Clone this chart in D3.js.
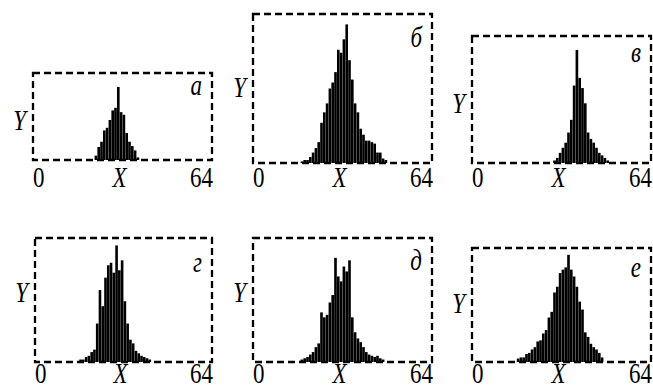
<!DOCTYPE html>
<html>
<head>
<meta charset="utf-8">
<script src="https://cdn.jsdelivr.net/npm/d3@7"></script>
<style>
  body { margin: 0; background: #fff; }
</style>
</head>
<body>
<script>
(function() {
  // bins run 0..63, heights in % of the panel's Y range
  const binCount = 64;
  const tickLabels = ['0', '64'];
  const panelLetters = ['а', 'б', 'в', 'г', 'д', 'е'];

  const startA = 22;
  const valuesA = [5, 15, 21, 34, 37, 46, 57, 60, 84, 55, 52, 31, 21, 16, 11, 3];

  const startB = 17;
  const valuesB = [1, 2, 2, 4, 7, 10, 14, 27, 34, 40, 50, 54, 61, 76, 74, 83, 93, 69, 56, 40,
                   34, 23, 19, 15, 15, 14, 13, 7, 7, 3, 2];

  const startV = 29;
  const valuesV = [2, 4, 8, 12, 16, 24, 34, 61, 89, 67, 59, 47, 24, 19, 16, 12, 8, 6, 4, 2];

  const startG = 16;
  const valuesG = [2, 2, 4, 5, 8, 10, 31, 58, 45, 68, 78, 80, 72, 94, 74, 82, 49, 31, 18, 15,
                   9, 7, 5, 4, 3, 2];

  const startD = 17;
  const valuesD = [2, 3, 4, 6, 8, 12, 15, 40, 36, 38, 48, 54, 84, 69, 65, 77, 73, 82, 36, 24,
                   19, 16, 12, 8, 6, 5, 4, 5, 3, 2];

  const startE = 16;
  const valuesE = [3, 4, 4, 7, 8, 11, 13, 18, 19, 25, 28, 39, 44, 61, 66, 78, 81, 83, 94, 81,
                   75, 66, 53, 46, 26, 22, 16, 13, 11, 8, 4];

  const panels = [
    { letter: panelLetters[0], start: startA, values: valuesA, box: [33, 73, 212, 160], letterY: 95, yLabelY: 130, axisY: 187 },
    { letter: panelLetters[1], start: startB, values: valuesB, box: [253, 14, 432, 163], letterY: 47, yLabelY: 97, axisY: 187 },
    { letter: panelLetters[2], start: startV, values: valuesV, box: [472, 36, 651, 163], letterY: 62, yLabelY: 113, axisY: 187 },
    { letter: panelLetters[3], start: startG, values: valuesG, box: [35, 238, 212, 362], letterY: 272, yLabelY: 302, axisY: 383 },
    { letter: panelLetters[4], start: startD, values: valuesD, box: [253, 238, 432, 362], letterY: 270, yLabelY: 302, axisY: 383 },
    { letter: panelLetters[5], start: startE, values: valuesE, box: [472, 248, 651, 362], letterY: 277, yLabelY: 313, axisY: 383 }
  ];

  const width = 653;
  const height = 390;
  const stretch = 1.3;

  const svg = d3.select('body').append('svg').attr('width', width).attr('height', height);

  function addText(g, str, x, y, anchor, italic) {
    g.append('text')
      .attr('transform', 'translate(' + x + ',' + y + ') scale(1,' + stretch + ')')
      .attr('text-anchor', anchor)
      .style('font-family', '"Times New Roman", Times, "Liberation Serif", serif')
      .style('font-size', '23px')
      .style('font-style', italic ? 'italic' : 'normal')
      .style('fill', '#000')
      .text(str);
  }

  panels.forEach(function(p) {
    const left = p.box[0], top = p.box[1], right = p.box[2], bottom = p.box[3];
    const g = svg.append('g');

    const xScale = d3.scaleBand()
      .domain(d3.range(binCount))
      .range([left, right])
      .paddingInner(0.06);

    const yScale = d3.scaleLinear()
      .domain([0, 100])
      .range([bottom, top]);

    const bins = p.values.map(function(v, i) { return { bin: p.start + i, value: v }; });

    g.selectAll('rect.bar')
      .data(bins)
      .enter()
      .append('rect')
      .attr('class', 'bar')
      .attr('x', function(d) { return xScale(d.bin); })
      .attr('y', function(d) { return yScale(d.value); })
      .attr('width', xScale.bandwidth())
      .attr('height', function(d) { return bottom - yScale(d.value); })
      .attr('fill', '#000');

    g.append('rect')
      .attr('x', left)
      .attr('y', top)
      .attr('width', right - left)
      .attr('height', bottom - top)
      .attr('fill', 'none')
      .attr('stroke', '#000')
      .attr('stroke-width', 2.3)
      .attr('stroke-dasharray', '7,4');

    addText(g, tickLabels[0], left, p.axisY, 'start', false);
    addText(g, tickLabels[1], right + 1, p.axisY, 'end', false);
    addText(g, 'X', (left + right) / 2 - 3, p.axisY, 'middle', true);
    addText(g, 'Y', left - 7, p.yLabelY, 'end', true);
    addText(g, p.letter, right - 10, p.letterY, 'end', true);
  });
})();
</script>
</body>
</html>
